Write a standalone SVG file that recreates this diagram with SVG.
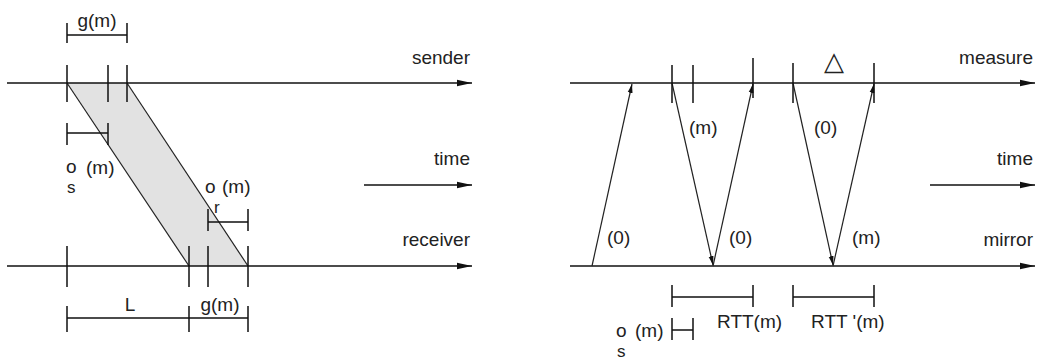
<svg xmlns="http://www.w3.org/2000/svg" width="1040" height="361" viewBox="0 0 1040 361">
<style>
text{font-family:"Liberation Sans",Arial,sans-serif;font-size:19px;fill:#222}
.ax{stroke:#111;stroke-width:1.6;fill:none}
.tk{stroke:#111;stroke-width:1.5;fill:none}
.msg{stroke:#222;stroke-width:1.2;fill:none}
.end{text-anchor:end}
.sub{font-size:17px}
</style>
<defs>
<marker id="ah" markerUnits="userSpaceOnUse" markerWidth="16" markerHeight="8" refX="15" refY="4" orient="auto"><path d="M0,0.8 L15,4 L0,7.2 z" fill="#111"/></marker>
<marker id="mh" markerUnits="userSpaceOnUse" markerWidth="10" markerHeight="6" refX="9" refY="3" orient="auto"><path d="M0,0.5 L9,3 L0,5.5 z" fill="#111"/></marker>
</defs>

<g id="left-packet">
<polygon points="67,83 127,83 248,266 189,266" fill="#e2e2e2" stroke="none"/>
<line class="msg" x1="67" y1="83" x2="189" y2="266"/>
<line class="msg" x1="127" y1="83" x2="248" y2="266"/>
</g>

<g id="connectors">
<line class="ax" x1="7" y1="83" x2="472" y2="83" marker-end="url(#ah)"/>
<line class="ax" x1="7" y1="266" x2="472" y2="266" marker-end="url(#ah)"/>
<line class="ax" x1="364" y1="185" x2="472" y2="185" marker-end="url(#ah)"/>
<line class="ax" x1="570" y1="83" x2="1035" y2="83" marker-end="url(#ah)"/>
<line class="ax" x1="570" y1="266" x2="1035" y2="266" marker-end="url(#ah)"/>
<line class="ax" x1="930" y1="185" x2="1035" y2="185" marker-end="url(#ah)"/>
<line class="msg" x1="592" y1="266" x2="632" y2="84" marker-end="url(#mh)"/>
<line class="msg" x1="672" y1="83" x2="713" y2="265" marker-end="url(#mh)"/>
<line class="msg" x1="713" y1="266" x2="753" y2="84" marker-end="url(#mh)"/>
<line class="msg" x1="793" y1="83" x2="833" y2="265" marker-end="url(#mh)"/>
<line class="msg" x1="833" y1="266" x2="874" y2="84" marker-end="url(#mh)"/>
</g>

<g id="left-ticks">
<path class="tk" d="M67,65 V102 M108,65 V102 M127,65 V102"/>
<path class="tk" d="M67,23 V43 M127,23 V43 M67,35 H127"/>
<path class="tk" d="M67,123 V145 M108,123 V145 M67,133 H108"/>
<path class="tk" d="M67,246 V287 M189,246 V287 M208,246 V287 M248,246 V287"/>
<path class="tk" d="M208,209 V231 M248,209 V231 M208,222 H248"/>
<path class="tk" d="M67,306 V332 M189,306 V332 M248,306 V332 M67,318 H248"/>
</g>

<g id="left-labels">
<text x="97" y="27" text-anchor="middle">g(m)</text>
<text x="470" y="64" class="end">sender</text>
<text x="470" y="165" class="end">time</text>
<text x="470" y="246" class="end">receiver</text>
<text x="66" y="173">o<tspan class="sub" x="67" dy="20">s</tspan><tspan x="86" dy="-19">(m)</tspan></text>
<text x="205" y="193">o<tspan class="sub" x="214" dy="20">r</tspan><tspan x="222" dy="-20">(m)</tspan></text>
<text x="130" y="311" text-anchor="middle">L</text>
<text x="220" y="311" text-anchor="middle">g(m)</text>
</g>

<g id="right-ticks">
<path class="tk" d="M672,65 V103 M693,65 V103 M753,58 V98 M793,63 V103 M874,63 V103"/>
<path class="tk" d="M672,285 V307 M753,285 V307 M672,297 H753"/>
<path class="tk" d="M793,285 V307 M874,285 V307 M793,297 H874"/>
<path class="tk" d="M672,318 V340 M693,318 V340 M672,330 H693"/>
</g>

<g id="right-labels">
<text x="834" y="70" text-anchor="middle" style="font-family:'DejaVu Sans',sans-serif;font-size:26px">△</text>
<text x="1033" y="64" class="end">measure</text>
<text x="1033" y="165" class="end">time</text>
<text x="1033" y="246" class="end">mirror</text>
<text x="607" y="244">(0)</text>
<text x="689" y="134">(m)</text>
<text x="729" y="244">(0)</text>
<text x="814" y="134">(0)</text>
<text x="852" y="244">(m)</text>
<text x="717" y="328">RTT(m)</text>
<text x="811" y="328">RTT '(m)</text>
<text x="616" y="337">o<tspan class="sub" x="617" dy="20">s</tspan><tspan x="635" dy="-20">(m)</tspan></text>
</g>
</svg>
